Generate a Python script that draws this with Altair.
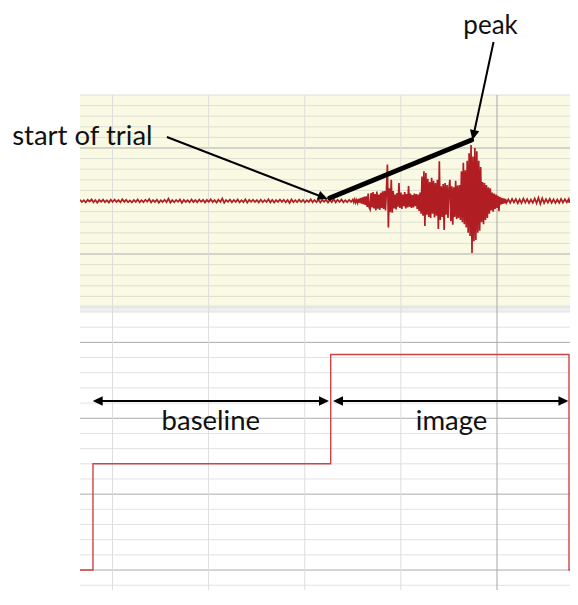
import math
import numpy as np
import pandas as pd
import altair as alt

# ---------------- axis / grid values ----------------
X_DOMAIN = [0.662, 5.0, 5.764, 5.836]   # time (s); last piece squeezed at the page edge
X_GRID = [1, 2, 3, 4]
X_CURSOR = [5]

TOP_DOMAIN = [-1000, 1000]         # EMG signal (uV)
TOP_MINOR = [v for v in range(-1000, 1001, 100) if v not in (-500, 500)]
TOP_MAJOR = [-500, 500]
TOP_FILL = [-981, 1000]
TOP_BAND = [-1047, -981]

BOT_TOP = 17                       # trigger level at top of lower panel
BOT_MINOR = [v for v in range(-1, 18) if v % 5 != 0]
BOT_MAJOR = [0, 5, 10, 15]

# ---------------- EMG signal ----------------
pre_vals = [
    12, -10, 8, -14, 11, -6, 15, -12, 9, -16, 10, -8, 13, -11, 7, -15, 12, -9, 14, -10,
    9, -13, 16, -8, 11, -12, 6, -14, 10, -9, 15, -13, 8, -11, 12, -7, 18, -14, 9, -10,
    13, -16, 7, -9, 12, -11, 22, -15, 8, -12, 10, -8, 14, -18, 11, -9, 7, -13, 15, -10,
    9, -12, 13, -7, 11, -15, 10, -9, 16, -11, 8, -14, 12, -10, 24, -17, 9, -8, 13, -12,
    10, -9, 14, -13, 7, -11, 15, -16, 11, -8, 12, -10, 9, -14, 13, -12, 8, -9, 17, -13,
    11, -15, 9, -10, 14, -8, 12, -13, 10, -20, 15, -11, 8, -12, 13, -9, 11, -14, 7, -10,
    16, -12, 9, -11, 13, -15, 10, -8, 12, -14, 9, -10, 18, -13, 11, -9, 14, -12, 8, -11,
    12, -9,
]
burst_vals = [
    14, -12, 16, -15, 11, -18, 20, -16,
    28, -25, 35, -30, 42, -38, 45,
    -55, 70, -62, -80, 75, -60, 85, -70, 65, -88, 90, -72, 60, -85, 78, -66, 92,
    -75, 95, -90, 110,
    345, -250, 120,
    -105, 200, -110, 95,
    -70, 60, -80, 75, -55, 170, -65, 80, -75, 60, -50, 85, -70, 65,
    -60, 140, -55, 70,
    -65, 55, -60, 70, -50, 65, -75, 60, -95, 80,
    -120, 230, -140, 280, -235, 265, -130,
    210, -150, 180, -160, 220, -120, 190, -155, 170, -140, 200,
    -265, 375, -180,
    140, -150, 160, -274, 170, -130, 150, -160, 120, 200, -190, 140, -225, 130, -150, 190, -170, 145, -160, 150,
    -180, 280, -200, 360, -220, 290,
    -250, 380, -300, 450, -330, 528, -490,
    420, -380, 500, -368, 470, -300, 380, -280, 320,
    -200, 180, -220, 170, -180, 150, -160, 130, -120,
    120, -90, 80, -100, 70, -75, 60, -65,
    50, -95, 40, -35, 30, -28, 25, -22, 20, -18,
]
post_vals = [
    16, -18, 20, -14, 17, -21, 15, -19, 22, -16, 18, -20, 14, -17, 24, -22, 30, -28, 26, -20,
    18, -15, 21, -17, 16, -19, 14, -18, 20, -15, 17, -13, 19, -16, 15, -18, 14,
]
pre_t = 0.662 + 0.02 * np.arange(len(pre_vals))
burst_t = 3.50 + 0.01 * np.arange(len(burst_vals))
post_t = 5.12 + 0.02 * np.arange(len(post_vals))

# ---------------- trigger (stimulus) ----------------
STEP_T = [0.662, 0.797, 3.27, 5.764, 5.836]
STEP_V = [0, 7, 14.2, 0, 0]

# ---------------- annotations ----------------
TOP_TEXT = ["start of trial", "peak"]
TOP_TEXT_X = [-0.044, 4.933]
TOP_TEXT_Y = [528, 1576]

BOT_TEXT = ["baseline", "image"]
BOT_TEXT_X = [2.023, 4.527]
BOT_TEXT_Y = [9.22, 9.22]

# arrows: (x0, y0, x1, y1) -> head at (x1, y1)
TOP_ARROWS = [(1.566, 604, 3.239, 19), (4.964, 1500, 4.745, 575)]
TOP_THICK = [(3.260, 28), (4.735, 575)]
BOT_SPANS = [(0.794, 3.252), (3.294, 5.758)]
BOT_SPAN_Y = 11.13

# ---------------- layout ----------------
W, H = 490, 495
X_RANGE = [0, 417, 489, 490]
TOP_RANGE = [212, 0]
PX_BOT = 15.18
BOT_RANGE = [H, 217]
BOT_DOMAIN = [BOT_TOP - (H - 217) / PX_BOT, BOT_TOP]
PX_X = (X_RANGE[1] - X_RANGE[0]) / (X_DOMAIN[1] - X_DOMAIN[0])
PX_TOP = (TOP_RANGE[0] - TOP_RANGE[1]) / (TOP_DOMAIN[1] - TOP_DOMAIN[0])
HEAD = "M0,0L-2,-0.95L-2,0.95Z"
HEAD_BACK = 7.0
FONT = "Lato"
FS = 27.5
FS_PEAK = 26

xs = alt.Scale(domain=X_DOMAIN, range=X_RANGE)
ts = lambda: alt.Scale(domain=TOP_DOMAIN, range=TOP_RANGE)
bs = lambda: alt.Scale(domain=BOT_DOMAIN, range=BOT_RANGE)


def seg(x0, y0, x1, y1, py):
    dx = (x1 - x0) * PX_X
    dy = -(y1 - y0) * py
    L = math.hypot(dx, dy)
    ux, uy = dx / L, dy / L
    xe = x1 - ux * HEAD_BACK / PX_X
    ye = y1 + uy * HEAD_BACK / py
    ang = math.degrees(math.atan2(dy, dx)) % 360
    return xe, ye, ang


top_lines, top_heads = [], []
for i, (x0, y0, x1, y1) in enumerate(TOP_ARROWS):
    xe, ye, ang = seg(x0, y0, x1, y1, PX_TOP)
    top_lines += [{"id": i, "x": x0, "y": y0}, {"id": i, "x": xe, "y": ye}]
    top_heads.append({"x": x1, "y": y1, "a": ang})

bot_lines, bot_heads = [], []
for i, (xa, xb) in enumerate(BOT_SPANS):
    xe1, _, a1 = seg(xa, BOT_SPAN_Y, xb, BOT_SPAN_Y, PX_BOT)
    xe0, _, a0 = seg(xb, BOT_SPAN_Y, xa, BOT_SPAN_Y, PX_BOT)
    bot_lines += [{"id": i, "x": xe0, "y": BOT_SPAN_Y}, {"id": i, "x": xe1, "y": BOT_SPAN_Y}]
    bot_heads += [{"x": xb, "y": BOT_SPAN_Y, "a": a1}, {"x": xa, "y": BOT_SPAN_Y, "a": a0}]

sig = pd.DataFrame({
    "t": np.concatenate([pre_t, burst_t, post_t]),
    "v": pre_vals + burst_vals + post_vals,
})
step = pd.DataFrame({"t": STEP_T, "v": STEP_V})

noax = dict(axis=None)


def hrule(vals, scale, color):
    return alt.Chart(pd.DataFrame({"v": vals})).mark_rule(color=color, strokeWidth=1).encode(
        y=alt.Y("v:Q", scale=scale, **noax))


def vrule(vals, color):
    return alt.Chart(pd.DataFrame({"v": vals})).mark_rule(color=color, strokeWidth=1).encode(
        x=alt.X("v:Q", scale=xs, **noax))


def band(lohi, scale, color):
    return alt.Chart(pd.DataFrame({"lo": [lohi[0]], "hi": [lohi[1]]})).mark_rect(color=color).encode(
        y=alt.Y("lo:Q", scale=scale, **noax), y2="hi:Q")


def texts(labels, xv, yv, scale, align, fs):
    return alt.Chart(pd.DataFrame({"t": labels, "x": xv, "y": yv})).mark_text(
        font=FONT, fontSize=fs, align=align, baseline="alphabetic", color="#111111").encode(
        x=alt.X("x:Q", scale=xs, **noax), y=alt.Y("y:Q", scale=scale, **noax), text="t:N")


layers = [
    band(TOP_FILL, ts(), "#FAFAE4"),
    band(TOP_BAND, ts(), "#EEEEEE"),
    hrule(TOP_MINOR, ts(), "#DEDED2"),
    hrule(TOP_MAJOR, ts(), "#ABABAB"),
    hrule(BOT_MINOR, bs(), "#E2E2E2"),
    hrule(BOT_MAJOR, bs(), "#ABABAB"),
    vrule(X_GRID, "#DDDDDD"),
    vrule(X_CURSOR, "#A6A6A6"),
    alt.Chart(sig).mark_line(color="#B01E23", strokeWidth=1.7, clip=True).encode(
        x=alt.X("t:Q", scale=xs, **noax), y=alt.Y("v:Q", scale=ts(), **noax)),
    alt.Chart(step).mark_line(color="#CC4444", strokeWidth=1.4, interpolate="step-after", clip=True).encode(
        x=alt.X("t:Q", scale=xs, **noax), y=alt.Y("v:Q", scale=bs(), **noax)),
    alt.Chart(pd.DataFrame(top_lines)).mark_line(color="black", strokeWidth=2).encode(
        x=alt.X("x:Q", scale=xs, **noax), y=alt.Y("y:Q", scale=ts(), **noax), detail="id:N"),
    alt.Chart(pd.DataFrame({"x": [p[0] for p in TOP_THICK], "y": [p[1] for p in TOP_THICK]})).mark_line(
        color="black", strokeWidth=5, strokeCap="round").encode(
        x=alt.X("x:Q", scale=xs, **noax), y=alt.Y("y:Q", scale=ts(), **noax)),
    alt.Chart(pd.DataFrame(top_heads)).mark_point(shape=HEAD, filled=True, size=100, color="black",
                                                  opacity=1, strokeWidth=0).encode(
        x=alt.X("x:Q", scale=xs, **noax), y=alt.Y("y:Q", scale=ts(), **noax),
        angle=alt.Angle("a:Q", scale=None)),
    alt.Chart(pd.DataFrame(bot_lines)).mark_line(color="black", strokeWidth=2).encode(
        x=alt.X("x:Q", scale=xs, **noax), y=alt.Y("y:Q", scale=bs(), **noax), detail="id:N"),
    alt.Chart(pd.DataFrame(bot_heads)).mark_point(shape=HEAD, filled=True, size=100, color="black",
                                                  opacity=1, strokeWidth=0).encode(
        x=alt.X("x:Q", scale=xs, **noax), y=alt.Y("y:Q", scale=bs(), **noax),
        angle=alt.Angle("a:Q", scale=None)),
    texts(TOP_TEXT[:1], TOP_TEXT_X[:1], TOP_TEXT_Y[:1], ts(), "left", FS),
    texts(TOP_TEXT[1:], TOP_TEXT_X[1:], TOP_TEXT_Y[1:], ts(), "center", FS_PEAK),
    texts(BOT_TEXT, BOT_TEXT_X, BOT_TEXT_Y, bs(), "center", FS),
]

chart = alt.layer(*layers).resolve_scale(y="independent").properties(
    width=W, height=H,
    autosize=alt.AutoSizeParams(type="none"),
    padding={"left": 72, "top": 87, "right": 0, "bottom": 0},
    background="white",
).configure_view(strokeWidth=0)

chart.save("out.html", embed_options={"renderer": "svg", "actions": False})
